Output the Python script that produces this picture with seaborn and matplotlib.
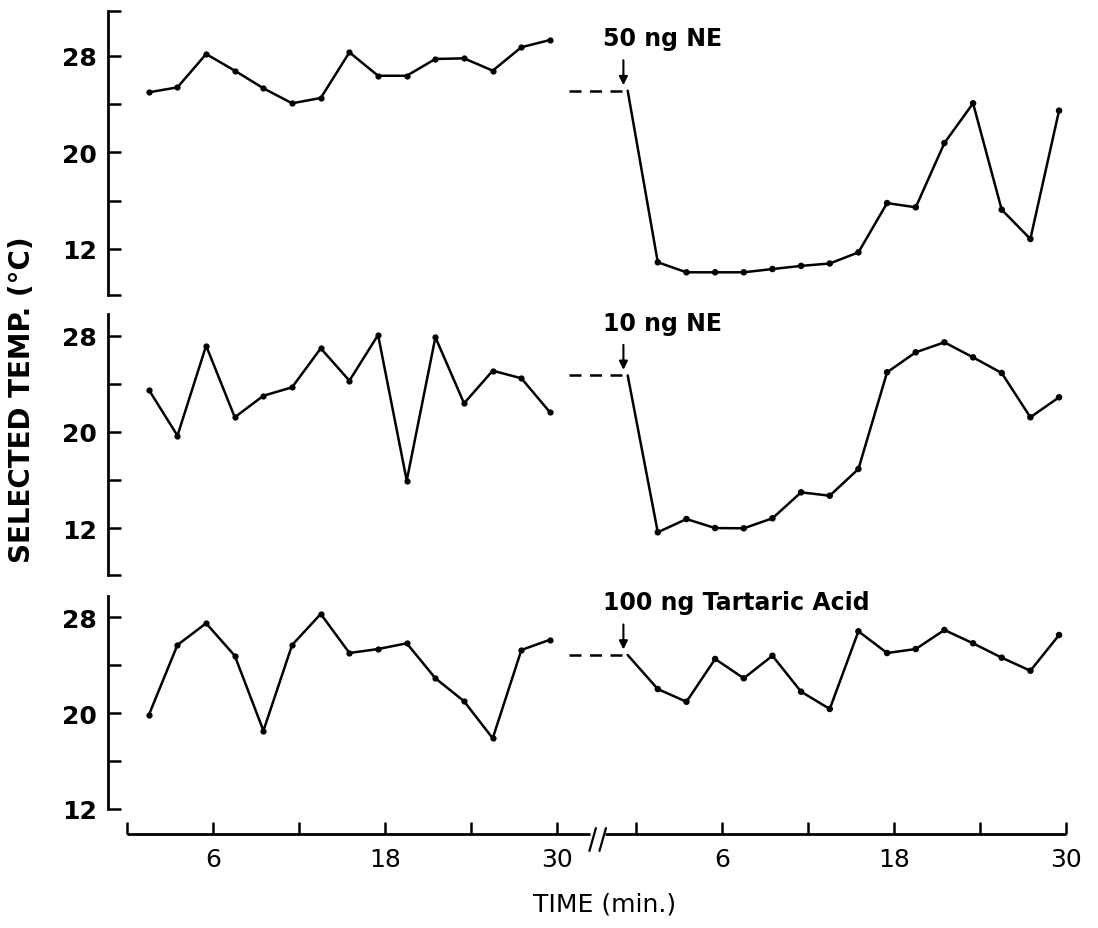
import matplotlib
matplotlib.use("Agg")
import matplotlib.pyplot as plt
import seaborn as sns
import pandas as pd

# ============================
# Datos
# ============================
TIMES = [1.5, 3.5, 5.5, 7.5, 9.5, 11.5, 13.5, 15.5, 17.5, 19.5, 21.5, 23.5, 25.5, 27.5, 29.5]

pre_50ne = [24.97, 25.38, 28.14, 26.76, 25.30, 24.06, 24.50, 28.28, 26.34, 26.34,
            27.73, 27.78, 26.76, 28.70, 29.30]
post_50ne = [10.90, 10.07, 10.07, 10.07, 10.34, 10.60, 10.80, 11.72, 15.80, 15.45,
             20.77, 24.06, 15.25, 12.83, 23.45]

pre_10ne = [23.51, 19.69, 27.17, 21.22, 23.01, 23.71, 26.95, 24.26, 28.06, 15.95,
            27.87, 22.38, 25.09, 24.46, 21.63]
post_10ne = [11.66, 12.76, 12.01, 11.99, 12.82, 14.98, 14.70, 16.92, 24.96, 26.62,
             27.45, 26.20, 24.90, 21.22, 22.88]

pre_tart = [19.84, 25.69, 27.50, 24.79, 18.53, 25.69, 28.28, 25.02, 25.35, 25.83,
            22.91, 20.99, 17.90, 25.27, 26.13]
post_tart = [22.01, 20.95, 24.52, 22.91, 24.79, 21.79, 20.35, 26.83, 25.02, 25.35,
             26.94, 25.83, 24.63, 23.54, 26.52]

baselines = [25.1, 24.7, 24.85]
labels = ["50 ng NE", "10 ng NE", "100 ng Tartaric Acid"]

x_ticks = [0, 6, 12, 18, 24, 30]
x_ticklabels = ["", "6", "", "18", "", "30"]
y_major = [12, 20, 28]

# ============================
# Geometría
# ============================
OFF = 35.52          # desplazamiento del segmento post-inyección
INJ = -0.6           # momento de la inyección (min, segmento derecho)
DASH_START = -4.7
XLIM = (-1.35, 66.0)
W, H = 1098, 929

# (y28_px, px_por_grado, ylim, límites del eje, ticks menores)
panels = [
    (56.7, 12.08, (8.0, 32.0), (8.2, 31.7), [8.2, 16, 24, 31.7]),
    (336.7, 12.03, (8.0, 30.0), (8.1, 29.8), [8.1, 16, 24]),
    (618.3, 11.98, (9.9, 30.0), (12.0, 29.8), [16, 24]),
]
series = [(pre_50ne, post_50ne), (pre_10ne, post_10ne), (pre_tart, post_tart)]

sns.set_style("white")
plt.rcParams["font.family"] = ["DejaVu Sans"]
plt.rcParams["text.color"] = "black"

fig = plt.figure(figsize=(W / 100, H / 100), dpi=100)

axes = []
for i, (y28, ppd, ylim, bounds, minor) in enumerate(panels):
    top = y28 - (ylim[1] - 28) * ppd
    bottom = y28 + (28 - ylim[0]) * ppd
    left = 127.3 + 14.33 * XLIM[0]
    right = 127.3 + 14.33 * XLIM[1]
    ax = fig.add_axes([left / W, 1 - bottom / H, (right - left) / W, (bottom - top) / H])
    axes.append(ax)

    pre_vals, post_vals = series[i]
    base = baselines[i]

    df_pre = pd.DataFrame({"t": TIMES, "temp": pre_vals})
    sns.lineplot(data=df_pre, x="t", y="temp", ax=ax, color="black",
                 linewidth=1.8, marker="o", markersize=4.5, markeredgewidth=0)

    df_post = pd.DataFrame({"t": [INJ] + TIMES, "temp": [base] + post_vals})
    df_post["t"] = df_post["t"] + OFF
    sns.lineplot(data=df_post, x="t", y="temp", ax=ax, color="black",
                 linewidth=1.8, sort=False)
    sns.scatterplot(data=df_post.iloc[1:], x="t", y="temp", ax=ax,
                    color="black", s=22, edgecolor="none")

    # línea basal discontinua
    ax.plot([DASH_START + OFF, INJ + OFF], [base, base], color="black",
            linewidth=1.8, linestyle=(0, (4.8, 3.4)))

    # flecha de inyección y etiqueta
    ax.annotate("", xy=(INJ - 0.3 + OFF, base), xytext=(0, 22),
                textcoords="offset points",
                arrowprops=dict(arrowstyle="-|>,head_length=0.5,head_width=0.25",
                                color="black", lw=1.5, shrinkA=0, shrinkB=4))
    ax.annotate(labels[i], xy=(INJ - 0.3 + OFF, base), xytext=(-15, 38),
                textcoords="offset points", ha="left", va="center",
                fontsize=17, fontweight="bold", color="black")

    ax.set_xlim(*XLIM)
    ax.set_ylim(*ylim)
    ax.set(xlabel="", ylabel="")

    for s in ["top", "right", "bottom"]:
        ax.spines[s].set_visible(False)
    ax.spines["left"].set_linewidth(2.0)
    ax.spines["left"].set_color("black")
    ax.spines["left"].set_bounds(*bounds)

    ax.set_yticks(y_major, [str(v) for v in y_major], fontweight="bold")
    ax.set_yticks(minor, minor=True)
    ax.tick_params(axis="y", which="both", left=True, direction="in", length=9,
                   width=1.8, pad=8, labelsize=18, colors="black")
    ax.grid(False)

    if i < 2:
        ax.tick_params(axis="x", bottom=False, labelbottom=False)

# eje X con ruptura
ax3 = axes[-1]
ylo = panels[-1][2][0]
pos = x_ticks + [t + OFF for t in x_ticks]
ax3.set_xticks(pos, x_ticklabels + x_ticklabels)
ax3.tick_params(axis="x", direction="in", length=9, width=1.8, pad=9,
                labelsize=18, colors="black", bottom=True)

break_l, break_r = 32.3, 33.35
ax3.plot([0, break_l], [ylo, ylo], color="black", lw=2.0, clip_on=False,
         solid_capstyle="butt")
ax3.plot([break_r, 30 + OFF], [ylo, ylo], color="black", lw=2.0, clip_on=False,
         solid_capstyle="butt")
for b in [32.45, 33.15]:
    ax3.plot([b - 0.2, b + 0.25], [ylo - 1.4, ylo + 0.5], color="black",
             lw=1.6, clip_on=False)

fig.text(22 / W, 1 - 400 / H, "SELECTED TEMP. (°C)", rotation=90,
         ha="center", va="center", fontsize=20, fontweight="bold", color="black")
fig.text(605 / W, 1 - 905 / H, "TIME (min.)", ha="center", va="center",
         fontsize=18, color="black")

fig.savefig("out.png", dpi=100, facecolor="white")
